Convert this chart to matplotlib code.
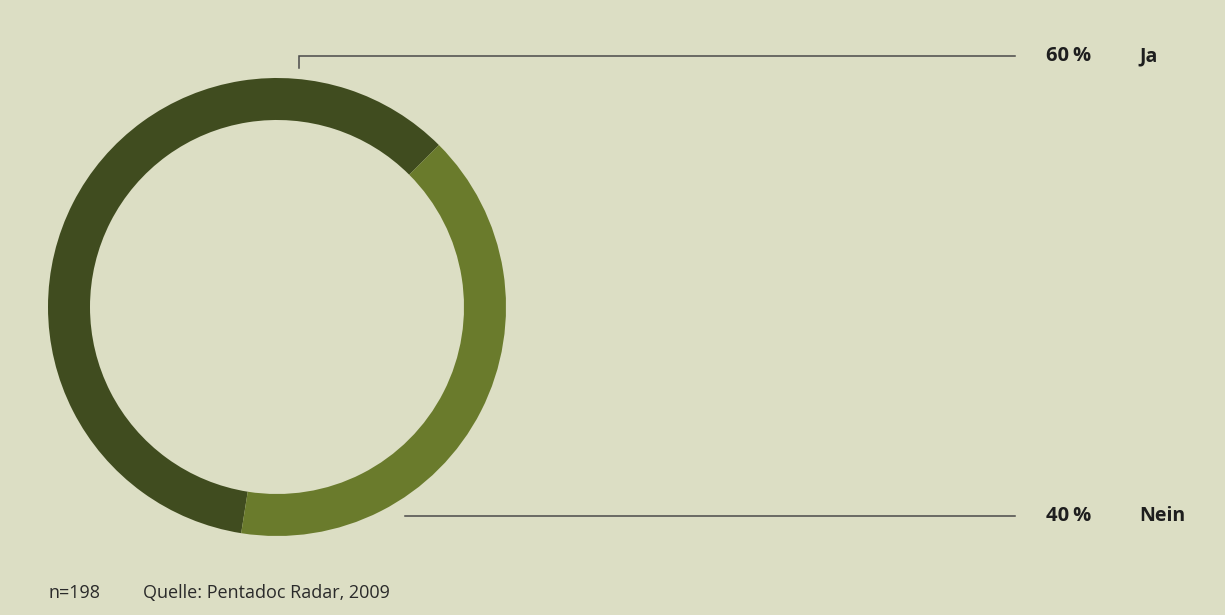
import matplotlib.pyplot as plt

# survey answers
labels = ['Ja', 'Nein']
shares = [60, 40]
colors = ['#404c1f', '#6a7b2c']
n_total = 198
source = 'Quelle: Pentadoc Radar, 2009'

bg = '#dcdec4'
line_col = '#4a4a4a'

plt.rcParams['font.family'] = ['Open Sans', 'DejaVu Sans']

fig = plt.figure(figsize=(12.25, 6.15), dpi=100)
fig.patch.set_facecolor(bg)
ax = fig.add_axes([0, 0, 1, 1])
ax.set_facecolor(bg)

# ring chart in pixel coordinates
cx, cy, r = 277, 308, 229
ax.pie(shares, colors=colors, startangle=45, counterclock=True,
       center=(cx, cy), radius=r, frame=True,
       wedgeprops=dict(width=42, linewidth=0))
ax.set_xlim(0, 1225)
ax.set_ylim(0, 615)
ax.set_aspect('equal')
ax.axis('off')

# leader lines
ax.plot([299, 299, 1015], [615 - 68, 615 - 56, 615 - 56], color=line_col, lw=1.1,
        solid_joinstyle='miter')
ax.plot([405, 1015], [615 - 516, 615 - 516], color=line_col, lw=1.1)

# value labels
label_y = [615 - 56, 615 - 516]
for lab, val, y in zip(labels, shares, label_y):
    ax.text(1046, y, f'{val}\u2009%', fontsize=14.5, fontweight='bold',
            color='#1e1e1e', va='center', ha='left')
    ax.text(1139, y, lab, fontsize=14, fontweight='bold',
            color='#1e1e1e', va='center', ha='left')

# footer
ax.text(49, 615 - 593, f'n={n_total}', fontsize=13, color='#2a2a2a', va='center')
ax.text(143, 615 - 593, source, fontsize=13, color='#2a2a2a', va='center')

fig.savefig('out.png', dpi=100, facecolor=bg)
